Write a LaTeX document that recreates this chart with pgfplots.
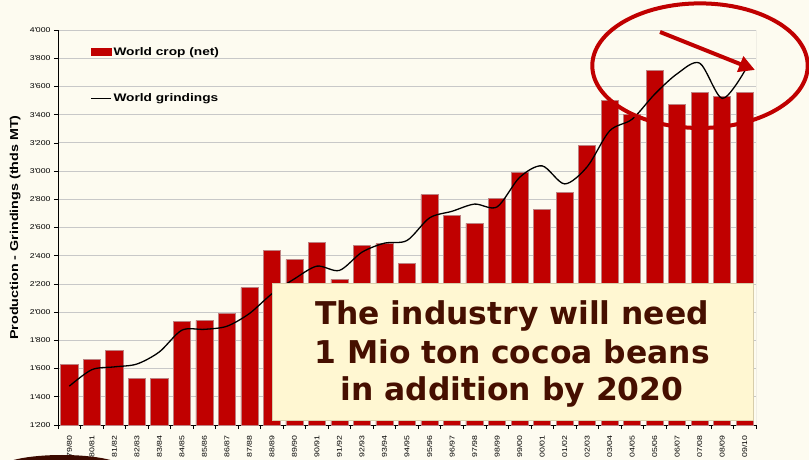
\documentclass[border=0pt]{standalone}
\usepackage{pgfplots}
\pgfplotsset{compat=1.18}
\usepackage{fontspec}
\usetikzlibrary{arrows.meta}
\setmainfont{Liberation Sans}[FakeStretch=1.25]
\newfontfamily\boxfont{DejaVu Sans}
\definecolor{bg}{RGB}{253,251,240}
\definecolor{barred}{RGB}{192,0,0}
\definecolor{baredge}{RGB}{190,130,130}
\definecolor{boxfill}{RGB}{255,247,210}
\definecolor{boxedge}{RGB}{215,205,170}
\definecolor{boxtext}{RGB}{70,15,0}
\definecolor{gridgray}{RGB}{200,200,200}
\definecolor{decor}{RGB}{60,10,0}
\begin{document}
\begin{tikzpicture}
\useasboundingbox (0bp,0bp) rectangle (809bp,460bp);
\fill[bg] (0bp,0bp) rectangle (809bp,460bp);
\begin{axis}[
  at={(58bp,35bp)}, anchor=south west,
  scale only axis, width=698bp, height=395bp,
  xmin=-0.5, xmax=30.5, ymin=1200, ymax=4000,
  axis lines=left, axis line style={-, black, line width=0.8bp},
  xtick={-0.5,0.5,...,30.5},
  x tick label as interval,
  xticklabels={79/80,80/81,81/82,82/83,83/84,84/85,85/86,86/87,87/88,88/89,89/90,90/91,91/92,92/93,93/94,94/95,95/96,96/97,97/98,98/99,99/00,00/01,01/02,02/03,03/04,04/05,05/06,06/07,07/08,08/09,09/10},
  x tick label style={rotate=90, anchor=east, font=\fontsize{7}{8}\selectfont},
  xticklabel shift=3bp,
  ytick={1200,1400,...,4000},
  y tick label style={font=\fontsize{7}{8}\selectfont},
  /pgf/number format/1000 sep={\textquotesingle},
  /pgf/number format/assume math mode=true,
  ymajorgrids, grid style={gridgray, line width=0.8bp},
  tick align=outside, major tick length=4bp,
  tick style={black, line width=0.6bp},
  ylabel={Production - Grindings (thds MT)},
  ylabel style={font=\bfseries\fontsize{11.5}{13}\selectfont, at={(rel axis cs:-0.0612,0.5)}, anchor=center, rotate=0},
  legend style={at={(rel axis cs:0.042,0.967)}, anchor=north west, draw=none, fill=none,
    font=\bfseries\fontsize{11}{13}\selectfont, row sep=33bp},
  legend cell align=left,
]
\addplot[ybar, bar width=0.76, fill=barred, draw=baredge, line width=0.6bp,
  legend image code/.code={\fill[barred] (0bp,-3.5bp) rectangle (20bp,3.5bp);}]
coordinates {
(0,1630) (1,1665) (2,1728) (3,1532) (4,1532) (5,1935) (6,1942) (7,1992) (8,2173) (9,2437)
(10,2372) (11,2492) (12,2232) (13,2475) (14,2485) (15,2348) (16,2833) (17,2688) (18,2630) (19,2805)
(20,2990) (21,2730) (22,2847) (23,3180) (24,3503) (25,3403) (26,3715) (27,3470) (28,3555) (29,3532) (30,3555)
};
\addlegendentry{World crop (net)}
\addplot[black, line width=1.3bp, smooth, no markers,
  legend image code/.code={\draw[black, line width=1bp] (0bp,0bp) -- (20bp,0bp);}]
coordinates {
(0,1475) (1,1592) (2,1612) (3,1632) (4,1718) (5,1872) (6,1878) (7,1900) (8,1990) (9,2130)
(10,2236) (11,2326) (12,2296) (13,2425) (14,2489) (15,2508) (16,2668) (17,2715) (18,2766) (19,2746)
(20,2955) (21,3037) (22,2909) (23,3030) (24,3285) (25,3368) (26,3545) (27,3690) (28,3765) (29,3515) (30,3710)
};
\addlegendentry{World grindings}
\draw[gray!80, line width=0.8bp] (rel axis cs:1,0) -- (rel axis cs:1,1);
\end{axis}
\draw[boxedge, fill=boxfill, line width=0.8bp] (272bp,40bp) rectangle (753bp,177bp);
\begin{scope}[every node/.style={anchor=base, text=boxtext, font=\boxfont\bfseries\fontsize{31.5}{38}\selectfont, inner sep=0pt}]
\node at (512bp,135bp) {The industry will need};
\node at (512bp,96.7bp) {1 Mio ton cocoa beans};
\node at (512bp,59.3bp) {in addition by 2020};
\end{scope}
\draw[barred, line width=4bp] (700bp,394.3bp) ellipse [x radius=107.7bp, y radius=62.3bp];
\draw[barred, line width=4bp, -{Triangle[length=16bp,width=16bp]}] (660bp,428bp) -- (755bp,390bp);
\fill[decor] (62bp,-8bp) ellipse [x radius=61.5bp, y radius=13bp];
\end{tikzpicture}
\end{document}
